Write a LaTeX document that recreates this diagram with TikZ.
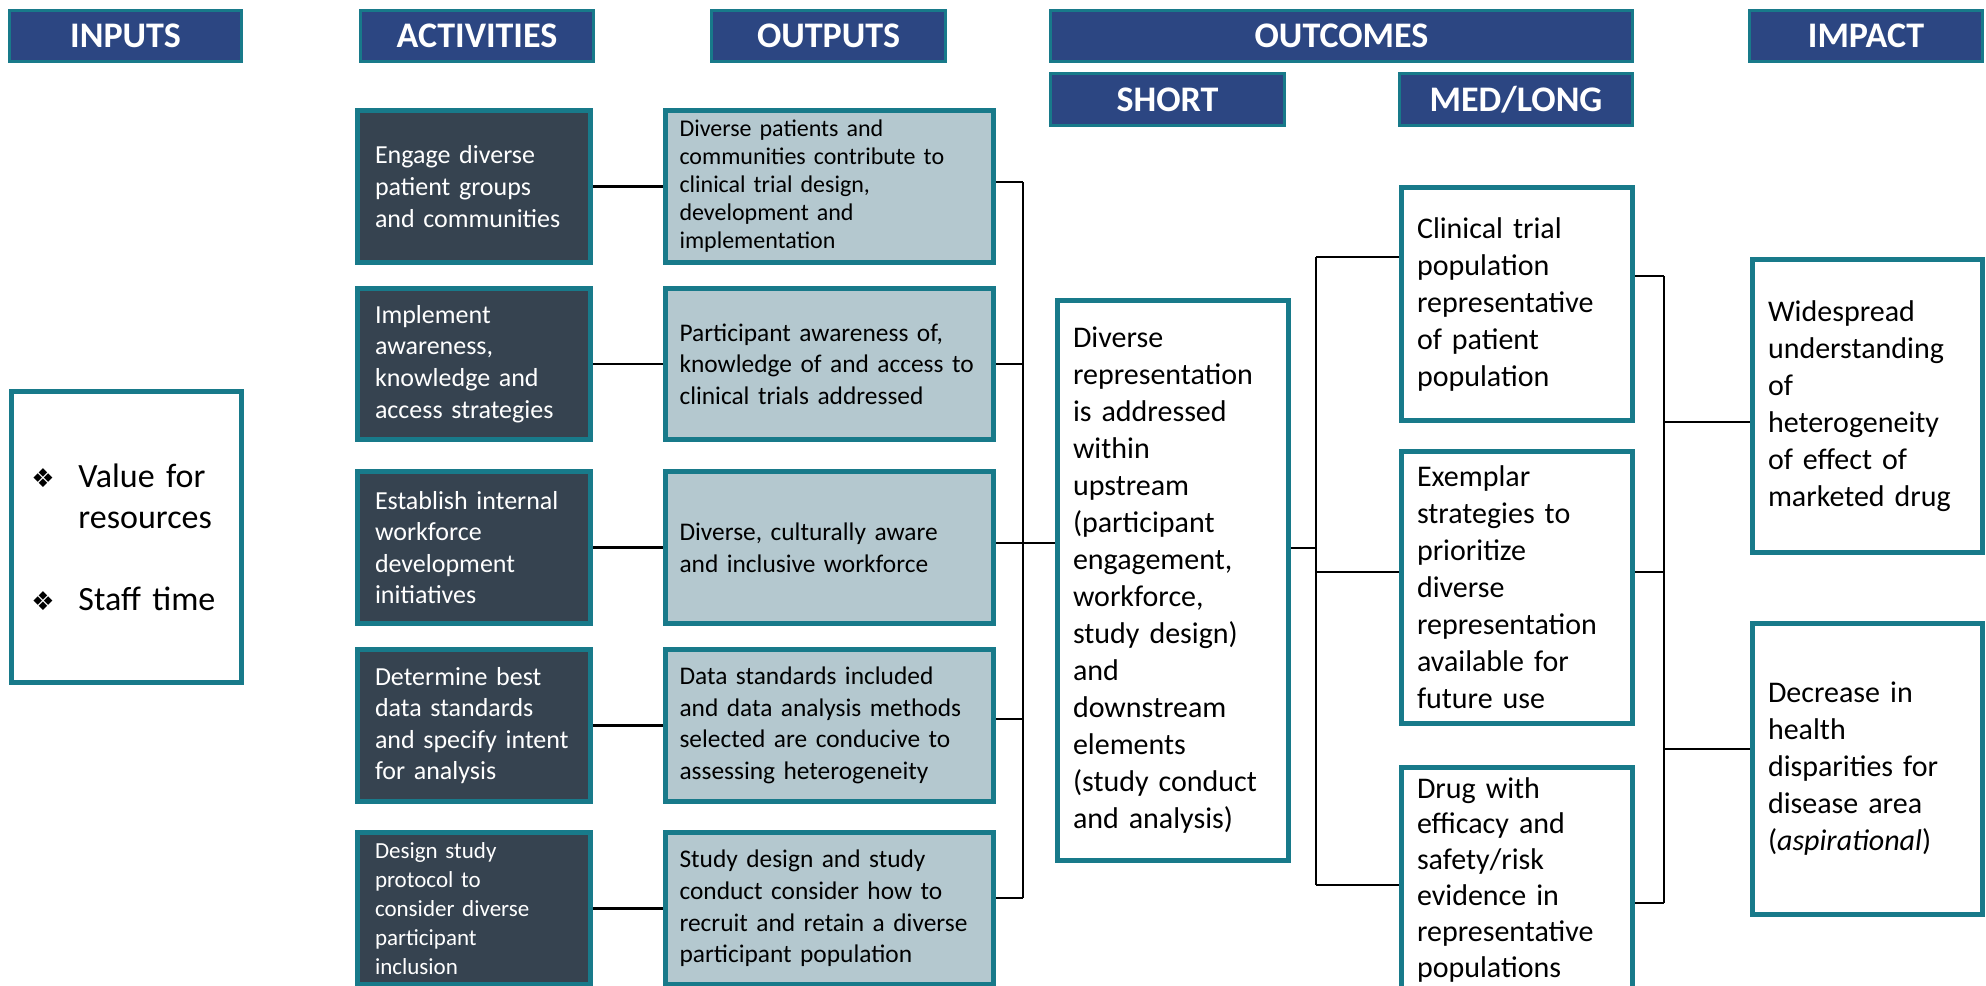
\documentclass[tikz,border=0pt]{standalone}
\usepackage{fontspec}
\setmainfont{Carlito}
\newfontfamily\symfont{DejaVu Sans}
\usepackage{tikz}

\definecolor{hdrblue}{RGB}{44,70,130}
\definecolor{tealline}{RGB}{24,122,138}
\definecolor{actslate}{RGB}{54,67,80}
\definecolor{outgrey}{RGB}{180,200,207}

\tikzset{
  hdr/.style={draw=tealline, line width=1.5pt, fill=hdrblue, text=white, anchor=north west,
    font=\bfseries\fontsize{18}{20}\selectfont, inner sep=0pt},
  actbox/.style={draw=tealline, line width=2.5pt, fill=actslate, text=white, anchor=north west,
    align=left, inner xsep=8.5pt, inner ysep=0pt, text width=99pt, minimum width=116.5pt,
    font=\fontsize{13}{15.8}\selectfont},
  outbox/.style={draw=tealline, line width=2.5pt, fill=outgrey, text=black, anchor=north west,
    align=left, inner xsep=7pt, inner ysep=0pt, text width=150pt, minimum width=164pt,
    font=\fontsize{12.7}{15.8}\selectfont},
  resbox/.style={draw=tealline, line width=2.5pt, fill=white, text=black, anchor=north west,
    align=left, inner xsep=7.5pt, inner ysep=0pt, text width=100pt, minimum width=115.5pt,
    font=\fontsize{15}{18.5}\selectfont},
  link/.style={draw=black, line width=1.3pt}
}
\newcommand{\bul}{\makebox[23.5pt][l]{\symfont\fontsize{13}{13}\selectfont ❖}}

\begin{document}
\begin{tikzpicture}[x=0.5pt,y=0.5pt,yscale=-1,xscale=1]
\useasboundingbox (0,0) rectangle (1986,985);

% Headers
\node[hdr, minimum width=116pt, minimum height=25.5pt] (hin) at (8,9) {INPUTS};
\node[hdr, minimum width=116.5pt, minimum height=25.5pt] (hact) at (359,9) {ACTIVITIES};
\node[hdr, minimum width=117pt, minimum height=25.5pt] (hout) at (710,9) {OUTPUTS};
\node[hdr, minimum width=291pt, minimum height=25.5pt] (houtc) at (1049,9) {OUTCOMES};
\node[hdr, minimum width=116.5pt, minimum height=25.5pt] (himp) at (1748,9) {IMPACT};
\node[hdr, minimum width=117pt, minimum height=26pt] (hshort) at (1049,72) {SHORT};
\node[hdr, minimum width=116.5pt, minimum height=26pt] (hmed) at (1398,72) {MED/LONG};

% Inputs
\node[resbox, inner xsep=10pt, text width=95pt, minimum width=115pt, minimum height=145.5pt,
  font=\fontsize{17}{20.5}\selectfont] (inp) at (9,389)
  {\bul Value for\\ \hspace*{23.5pt}resources\\[20.5pt] \bul Staff time};

% Activities
\node[actbox, minimum height=76pt] (act1) at (355,108) {Engage diverse\\ patient groups\\ and communities};
\node[actbox, minimum height=75.5pt] (act2) at (355,286) {Implement\\ awareness,\\ knowledge and\\ access strategies};
\node[actbox, minimum height=76pt] (act3) at (355,469) {Establish internal\\ workforce\\ development\\ initiatives};
\node[actbox, minimum height=76pt] (act4) at (355,647) {Determine best\\ data standards\\ and specify intent\\ for analysis};
\node[actbox, minimum height=76pt, font=\fontsize{11.5}{14.5}\selectfont] (act5) at (355,830)
  {Design study\\ protocol to\\ consider diverse\\ participant\\ inclusion};

% Outputs
\node[outbox, minimum height=76pt, font=\fontsize{12}{14}\selectfont] (out1) at (663,108)
  {Diverse patients and\\ communities contribute to\\ clinical trial design,\\ development and\\ implementation};
\node[outbox, minimum height=75.5pt] (out2) at (663,286) {Participant awareness of,\\ knowledge of and access to\\ clinical trials addressed};
\node[outbox, minimum height=76pt] (out3) at (663,469) {Diverse, culturally aware\\ and inclusive workforce};
\node[outbox, minimum height=76pt] (out4) at (663,647) {Data standards included\\ and data analysis methods\\ selected are conducive to\\ assessing heterogeneity};
\node[outbox, minimum height=76pt] (out5) at (663,830) {Study design and study\\ conduct consider how to\\ recruit and retain a diverse\\ participant population};

% Outcomes
\node[resbox, minimum height=280pt] (short) at (1055,298)
  {Diverse\\ representation\\ is addressed\\ within\\ upstream\\ (participant\\ engagement,\\ workforce,\\ study design)\\ and\\ downstream\\ elements\\ (study conduct\\ and analysis)};
\node[resbox, minimum height=116.5pt] (clin) at (1399,185) {Clinical trial\\ population\\ representative\\ of patient\\ population};
\node[resbox, minimum height=136pt] (exem) at (1399,449) {Exemplar\\ strategies to\\ prioritize\\ diverse\\ representation\\ available for\\ future use};
\node[resbox, minimum height=112pt, font=\fontsize{15}{17.9}\selectfont] (drug) at (1399,765)
  {Drug with\\ efficacy and\\ safety/risk\\ evidence in\\ representative\\ populations};

% Impact
\node[resbox, minimum width=115pt, text width=99.5pt, minimum height=146.5pt] (imp1) at (1750,257)
  {Widespread\\ understanding\\ of\\ heterogeneity\\ of effect of\\ marketed drug};
\node[resbox, minimum width=115pt, text width=99.5pt, minimum height=145.5pt] (imp2) at (1750,621)
  {Decrease in\\ health\\ disparities for\\ disease area\\ (\textit{aspirational})};

% Junctions
\coordinate (ja1) at (1023,182);
\coordinate (ja2) at (1023,364);
\coordinate (ja3) at (1023,543);
\coordinate (ja4) at (1023,719);
\coordinate (ja5) at (1023,898);
\coordinate (jb0) at (1316,548);
\coordinate (jb1) at (1316,257);
\coordinate (jb2) at (1316,572);
\coordinate (jb3) at (1316,885);
\coordinate (jc1) at (1664,276);
\coordinate (jc2) at (1664,572);
\coordinate (jc3) at (1664,903);
\coordinate (jc4) at (1664,422);
\coordinate (jc5) at (1664,749);

% Activities to outputs
\foreach \i in {1,...,5}
  \draw[link] (act\i.east) -- (out\i.west);

% Outputs to short
\foreach \i in {1,...,5}
  \draw[link] (out\i.east |- ja\i) -- (ja\i);
\draw[link] (ja1) -- (ja5);
\draw[link] (ja3) -- (ja3 -| short.west);

% Short to med/long
\draw[link] (short.east |- jb0) -- (jb0);
\draw[link] (jb1) -- (jb3);
\draw[link] (jb1) -- (jb1 -| clin.west);
\draw[link] (jb2) -- (jb2 -| exem.west);
\draw[link] (jb3) -- (jb3 -| drug.west);

% Med/long to impact
\draw[link] (clin.east |- jc1) -- (jc1);
\draw[link] (exem.east |- jc2) -- (jc2);
\draw[link] (drug.east |- jc3) -- (jc3);
\draw[link] (jc1) -- (jc3);
\draw[link] (jc4) -- (jc4 -| imp1.west);
\draw[link] (jc5) -- (jc5 -| imp2.west);

\end{tikzpicture}
\end{document}
